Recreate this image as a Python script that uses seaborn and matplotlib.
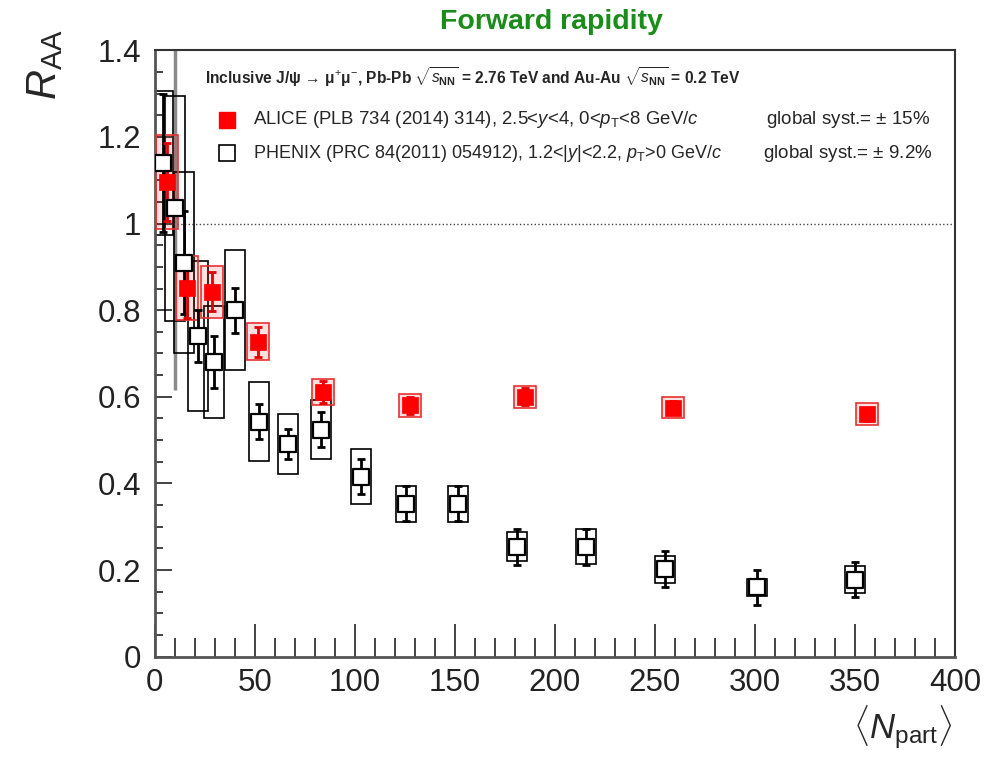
import numpy as np
import matplotlib.pyplot as plt
import seaborn as sns
from matplotlib.patches import Rectangle
from matplotlib.ticker import MultipleLocator, FuncFormatter

# ALICE Pb-Pb 2.76 TeV, forward rapidity
alice_npart = [6, 16, 28.5, 51.5, 84, 127.5, 185, 259, 356]
alice_raa = [1.096, 0.851, 0.842, 0.727, 0.611, 0.580, 0.600, 0.575, 0.560]
alice_stat = [0.09, 0.07, 0.045, 0.035, 0.025, 0.02, 0.02, 0.015, 0.015]
alice_syst = [0.108, 0.073, 0.06, 0.043, 0.029, 0.026, 0.026, 0.025, 0.025]

# PHENIX Au-Au 0.2 TeV, 1.2<|y|<2.2
phenix_npart = [4.3, 10, 14.7, 21.7, 29.5, 40, 52, 66.7, 83.3, 103, 125.8,
                151.7, 181.3, 215.5, 255, 301, 350]
phenix_raa = [1.14, 1.035, 0.91, 0.74, 0.68, 0.80, 0.543, 0.491, 0.524, 0.416,
              0.353, 0.353, 0.254, 0.254, 0.202, 0.160, 0.178]
phenix_stat = [0.16, 0.42, 0.12, 0.06, 0.06, 0.052, 0.041, 0.035, 0.041, 0.04,
               0.04, 0.04, 0.042, 0.042, 0.041, 0.040, 0.040]
phenix_syst = [0.166, 0.26, 0.21, 0.173, 0.13, 0.138, 0.091, 0.07, 0.068, 0.063,
               0.042, 0.042, 0.033, 0.041, 0.031, 0.019, 0.032]

sns.set_theme(style='ticks')
plt.rcParams['font.family'] = ['Liberation Sans', 'DejaVu Sans']
plt.rcParams['mathtext.fontset'] = 'custom'
plt.rcParams['mathtext.rm'] = 'Liberation Sans'
plt.rcParams['mathtext.it'] = 'Liberation Sans:italic'
plt.rcParams['mathtext.bf'] = 'Liberation Sans:bold'

fig = plt.figure(figsize=(9.86, 7.61), dpi=100)
ax = fig.add_axes([0.157, 0.137, 0.8115, 0.797])

# systematic boxes
for x, y, s in zip(phenix_npart, phenix_raa, phenix_syst):
    ax.add_patch(Rectangle((x - 5, y - s), 10, 2 * s, fill=False,
                           edgecolor='black', lw=1.2, zorder=2))
for x, y, s in zip(alice_npart, alice_raa, alice_syst):
    ax.add_patch(Rectangle((x - 5.5, y - s), 11, 2 * s, facecolor='#ff0000',
                           alpha=0.12, edgecolor='none', zorder=3))
    ax.add_patch(Rectangle((x - 5.5, y - s), 11, 2 * s, fill=False,
                           edgecolor='#e83030', lw=1.2, zorder=3))

# statistical errors (the most peripheral large one is drawn faint)
big = [i for i, e in enumerate(phenix_stat) if e > 0.3]
rest = [i for i in range(len(phenix_stat)) if i not in big]
ax.errorbar([phenix_npart[i] for i in rest], [phenix_raa[i] for i in rest],
            yerr=[phenix_stat[i] for i in rest], fmt='none',
            ecolor='black', elinewidth=2, capsize=3, capthick=2, zorder=4)
ax.errorbar([phenix_npart[i] for i in big], [phenix_raa[i] for i in big],
            yerr=[phenix_stat[i] for i in big], fmt='none',
            ecolor='#8a8a8a', elinewidth=2.5, capsize=0, zorder=1.5)
ax.errorbar(alice_npart, alice_raa, yerr=alice_stat, fmt='none',
            ecolor='#e00000', elinewidth=2, capsize=3, capthick=2, zorder=5)

sns.scatterplot(x=phenix_npart, y=phenix_raa, marker='s', s=135,
                facecolor='white', edgecolor='black', linewidth=1.6,
                ax=ax, zorder=6)
sns.scatterplot(x=alice_npart, y=alice_raa, marker='s', s=135,
                color='#ff0000', edgecolor='#ff0000', linewidth=0.5,
                ax=ax, zorder=7)

ax.axhline(1, color='#444444', ls=':', lw=1.0, zorder=1)

ax.set_xlim(0, 400)
ax.set_ylim(0, 1.4)
ax.xaxis.set_major_locator(MultipleLocator(50))
ax.xaxis.set_minor_locator(MultipleLocator(10))
ax.yaxis.set_major_locator(MultipleLocator(0.2))
ax.yaxis.set_minor_locator(MultipleLocator(0.05))
ax.yaxis.set_major_formatter(FuncFormatter(lambda v, p: f'{v:g}'))
ax.tick_params(axis='both', which='both', direction='in', colors='#222222',
               width=1.2, labelsize=22.5)
ax.tick_params(axis='x', which='major', length=24, pad=8)
ax.tick_params(axis='x', which='minor', length=14)
ax.tick_params(axis='y', which='major', length=12, pad=10)
ax.tick_params(axis='y', which='minor', length=6)
for side in ['left', 'bottom']:
    ax.spines[side].set_linewidth(2)
    ax.spines[side].set_color('#555555')
for side in ['right', 'top']:
    ax.spines[side].set_linewidth(1.5)
    ax.spines[side].set_color('#333333')

# legend block
ax.text(0.0625, 0.955,
        'Inclusive J/ψ → μ$^{+}$μ$^{-}$, Pb-Pb $\\sqrt{s_{\\mathbf{NN}}}$ = 2.76 TeV'
        ' and Au-Au $\\sqrt{s_{\\mathbf{NN}}}$ = 0.2 TeV',
        transform=ax.transAxes, fontsize=11.2, fontweight='bold', va='center')
ax.plot([0.09], [0.885], marker='s', ms=11, color='#ff0000',
        transform=ax.transAxes, clip_on=False)
ax.plot([0.09], [0.830], marker='s', ms=11, mfc='white', mec='black',
        mew=1.2, transform=ax.transAxes, clip_on=False)
ax.text(0.1225, 0.885,
        r'ALICE (PLB 734 (2014) 314), 2.5<$y$<4, 0<$p_{\rm T}$<8 GeV/$c$',
        transform=ax.transAxes, fontsize=13.4, va='center')
ax.text(0.1225, 0.830,
        r'PHENIX (PRC 84(2011) 054912), 1.2<|$y$|<2.2, $p_{\rm T}$>0 GeV/$c$',
        transform=ax.transAxes, fontsize=13.0, va='center')
ax.text(0.764, 0.885, r'global syst.= $\pm$ 15%', transform=ax.transAxes,
        fontsize=13.5, va='center')
ax.text(0.760, 0.830, r'global syst.= $\pm$ 9.2%', transform=ax.transAxes,
        fontsize=13.5, va='center')

fig.text(0.559, 0.971, 'Forward rapidity', color='#1a8c1a', fontsize=20.5,
         fontweight='bold', ha='center', va='center')
fig.text(0.046, 0.915, r'$R_{\rm AA}$', rotation=90, fontsize=30,
         ha='center', va='center')
fig.text(0.966, 0.045, r'$\langle N_{\rm part}\rangle$', fontsize=25,
         ha='right', va='center')

fig.savefig('out.png', dpi=100)
